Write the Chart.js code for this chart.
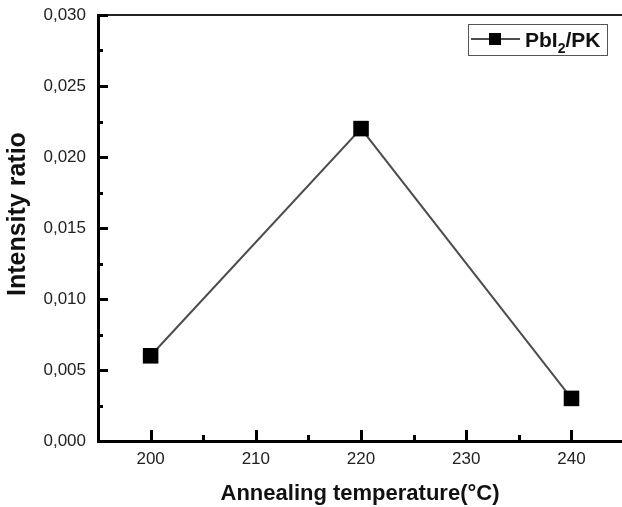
<!DOCTYPE html>
<html>
<head>
<meta charset="utf-8">
<script src="https://cdn.jsdelivr.net/npm/chart.js@4"></script>
<style>
  html, body { margin: 0; padding: 0; background: #fff; overflow: hidden; }
  canvas { display: block; }
</style>
</head>
<body>
<canvas id="ratio-chart" width="622" height="507"></canvas>
<script>
// annealing temperature (°C) and PbI2/PK intensity ratio
const temperatures = [200, 220, 240];
const intensityRatio = [0.006, 0.022, 0.003];
const xTicks = [200, 210, 220, 230, 240];
const yTicks = [0, 0.005, 0.010, 0.015, 0.020, 0.025, 0.030];
const seriesLabel = 'PbI2/PK';

const lineColor = '#4d4d4d';
const labelFont = { family: 'Liberation Sans, Arial, sans-serif', size: 17 };
const xTitleFont = { family: 'Liberation Sans, Arial, sans-serif', size: 22, weight: 'bold' };
const yTitleFont = { family: 'Liberation Sans, Arial, sans-serif', size: 25, weight: 'bold' };

// inward major/minor ticks, top frame line and the boxed legend
const framePlugin = {
  id: 'frame',
  afterDraw(chart) {
    const c = chart.ctx;
    const area = chart.chartArea;
    const xs = chart.scales.x;
    const ys = chart.scales.y;
    c.save();
    c.strokeStyle = '#222';
    c.lineWidth = 2;
    c.beginPath();
    c.moveTo(area.left, area.top);
    c.lineTo(area.right, area.top);
    c.stroke();

    c.strokeStyle = '#000';
    c.lineWidth = 3;
    const drawX = (v, len) => {
      const px = Math.round(xs.getPixelForValue(v)) + 0.5;
      c.beginPath();
      c.moveTo(px, area.bottom);
      c.lineTo(px, area.bottom - len);
      c.stroke();
    };
    const drawY = (v, len) => {
      const py = Math.round(ys.getPixelForValue(v)) + 0.5;
      c.beginPath();
      c.moveTo(area.left, py);
      c.lineTo(area.left + len, py);
      c.stroke();
    };
    xTicks.forEach((v) => {
      drawX(v, 11);
      if (v + 5 < xs.max) drawX(v + 5, 6);
    });
    yTicks.forEach((v, i) => {
      drawY(v, 10);
      if (i < yTicks.length - 1) drawY(v + 0.0025, 5);
    });

    // legend
    const bx = 468, by = 24, bw = 139, bh = 31;
    c.strokeStyle = '#555';
    c.lineWidth = 1;
    c.strokeRect(bx + 0.5, by + 0.5, bw, bh);
    c.strokeStyle = lineColor;
    c.lineWidth = 2;
    c.beginPath();
    c.moveTo(471, 39);
    c.lineTo(520, 39);
    c.stroke();
    c.fillStyle = '#000';
    c.fillRect(489, 33, 12, 12);
    c.fillStyle = '#111';
    c.textBaseline = 'alphabetic';
    c.font = 'bold 21px Liberation Sans, Arial, sans-serif';
    const main = seriesLabel.slice(0, 3);
    const rest = seriesLabel.slice(4);
    let tx = 525;
    c.fillText(main, tx, 47);
    tx += c.measureText(main).width;
    c.font = 'bold 14px Liberation Sans, Arial, sans-serif';
    c.fillText('2', tx, 53);
    tx += c.measureText('2').width;
    c.font = 'bold 21px Liberation Sans, Arial, sans-serif';
    c.fillText(rest, tx, 47);
    c.restore();
  }
};

new Chart(document.getElementById('ratio-chart'), {
  type: 'line',
  data: {
    datasets: [{
      label: seriesLabel,
      data: temperatures.map((t, i) => ({ x: t, y: intensityRatio[i] })),
      borderColor: lineColor,
      borderWidth: 2,
      pointStyle: 'rect',
      pointRadius: 11,
      pointBackgroundColor: '#000',
      pointBorderColor: '#000',
      pointBorderWidth: 0,
      tension: 0
    }]
  },
  options: {
    responsive: false,
    animation: false,
    devicePixelRatio: 1,
    layout: { autoPadding: false, padding: { top: 15, right: 0, left: 0, bottom: 0 } },
    plugins: {
      legend: { display: false },
      tooltip: { enabled: false }
    },
    scales: {
      x: {
        type: 'linear',
        min: 195,
        max: 244.8,
        afterBuildTicks: (scale) => { scale.ticks = xTicks.map(v => ({ value: v })); },
        afterFit: (scale) => {
          scale.height = 66;
          scale.paddingLeft = 0;
          scale.paddingRight = 0;
        },
        grid: { display: false, drawTicks: false },
        border: { display: true, color: '#000', width: 3 },
        ticks: {
          padding: 8,
          color: '#222',
          font: labelFont,
          maxRotation: 0,
          callback: (v) => String(v)
        },
        title: {
          display: true,
          text: 'Annealing temperature(°C)',
          color: '#111',
          font: xTitleFont,
          padding: { top: 0, bottom: 0 }
        }
      },
      y: {
        min: 0,
        max: 0.03,
        afterBuildTicks: (scale) => { scale.ticks = yTicks.map(v => ({ value: v })); },
        afterFit: (scale) => {
          scale.width = 98;
          scale.paddingTop = 0;
          scale.paddingBottom = 0;
        },
        grid: { display: false, drawTicks: false },
        border: { display: true, color: '#000', width: 3 },
        ticks: {
          padding: 12,
          color: '#222',
          font: labelFont,
          callback: (v) => v.toFixed(3).replace('.', ',')
        },
        title: {
          display: true,
          // leading spaces lift the title a little above the axis centre
          text: '    Intensity ratio',
          color: '#111',
          font: yTitleFont,
          padding: { top: 3, bottom: 0 }
        }
      }
    }
  },
  plugins: [framePlugin]
});
</script>
</body>
</html>
